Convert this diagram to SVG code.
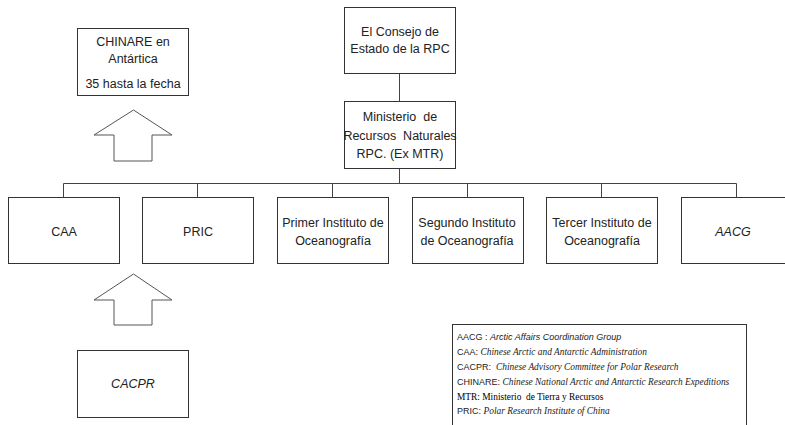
<svg xmlns="http://www.w3.org/2000/svg" width="785" height="425" viewBox="0 0 785 425">
<style>
.box{fill:#fff;stroke:#333;stroke-width:1}
.arr{fill:#fff;stroke:#555;stroke-width:1}
.t{font-family:"Liberation Sans",Arial,sans-serif;font-size:12.5px;fill:#222;text-anchor:middle}
.i{font-style:italic}
.conn{stroke:#444;stroke-width:1;fill:none}
.lg{font-family:"Liberation Sans",Arial,sans-serif;font-size:9px;fill:#222}
.ls{font-family:"Liberation Serif","Times New Roman",serif;font-size:9.4px;font-style:italic}
.lr{font-family:"Liberation Serif","Times New Roman",serif;font-size:9.4px}
</style>
<rect width="785" height="425" fill="#fff"/>
<g id="connectors">
<path class="conn" d="M399.5 73V101M399.5 168V183.5M63.5 183.5H736.5M63.5 183.5V197M197.5 183.5V197M332.5 183.5V197M467.5 183.5V197M601.5 183.5V197M736.5 183.5V197"/>
</g>
<g id="arrow-top"><polygon class="arr" points="133.5,110 172,135 152,135 152,161 114,161 114,135 94,135"/></g>
<g id="arrow-bottom"><polygon class="arr" points="133.5,274 172,300 152,300 152,325 114,325 114,300 94,300"/></g>
<g id="chinare">
<rect class="box" x="77.5" y="28.5" width="111" height="67"/>
<text class="t" x="133" y="45.5">CHINARE en</text>
<text class="t" x="133" y="62.5">Antártica</text>
<text class="t" x="133" y="87.5">35 hasta la fecha</text>
</g>
<g id="consejo">
<rect class="box" x="344.5" y="7.5" width="111" height="66"/>
<text class="t" x="400" y="36">El Consejo de</text>
<text class="t" x="400" y="53">Estado de la RPC</text>
</g>
<g id="ministerio">
<rect class="box" x="344.5" y="101.5" width="111" height="67"/>
<text class="t" x="400" y="121" xml:space="preserve">Ministerio  de</text>
<text class="t" x="400" y="139.5" xml:space="preserve">Recursos  Naturales</text>
<text class="t" x="400" y="158">RPC. (Ex MTR)</text>
</g>
<g id="caa">
<rect class="box" x="8.5" y="197.5" width="111" height="66"/>
<text class="t" x="64" y="236">CAA</text>
</g>
<g id="pric">
<rect class="box" x="142.5" y="197.5" width="111" height="66"/>
<text class="t" x="198" y="236">PRIC</text>
</g>
<g id="primer">
<rect class="box" x="277.5" y="197.5" width="111" height="66"/>
<text class="t" x="333" y="226.5">Primer Instituto de</text>
<text class="t" x="333" y="244.5">Oceanografía</text>
</g>
<g id="segundo">
<rect class="box" x="412.5" y="197.5" width="111" height="66"/>
<text class="t" x="467" y="226.5">Segundo Instituto</text>
<text class="t" x="467" y="244.5">de Oceanografía</text>
</g>
<g id="tercer">
<rect class="box" x="546.5" y="197.5" width="111" height="66"/>
<text class="t" x="602" y="226.5">Tercer Instituto de</text>
<text class="t" x="602" y="244.5">Oceanografía</text>
</g>
<g id="aacg">
<rect class="box" x="681.5" y="197.5" width="111" height="66"/>
<text class="t i" x="733" y="236">AACG</text>
</g>
<g id="cacpr">
<rect class="box" x="77.5" y="350.5" width="111" height="67"/>
<text class="t i" x="133" y="388">CACPR</text>
</g>
<g id="legend">
<rect class="box" x="452.5" y="324.5" width="294" height="105"/>
<text class="lg" x="457" y="339.5">AACG : <tspan font-style="italic">Arctic Affairs Coordination Group</tspan></text>
<text class="lg" x="457" y="354.5">CAA: <tspan class="ls">Chinese Arctic and Antarctic Administration</tspan></text>
<text class="lg" x="457" y="369.5" xml:space="preserve">CACPR:  <tspan class="ls">Chinese Advisory Committee for Polar Research</tspan></text>
<text class="lg" x="457" y="384.5">CHINARE: <tspan class="ls">Chinese National Arctic and Antarctic Research Expeditions</tspan></text>
<text class="lr" x="457" y="399.5" xml:space="preserve">MTR: Ministerio  de Tierra y Recursos</text>
<text class="lg" x="457" y="413.5">PRIC: <tspan class="ls">Polar Research Institute of China</tspan></text>
</g>
</svg>
